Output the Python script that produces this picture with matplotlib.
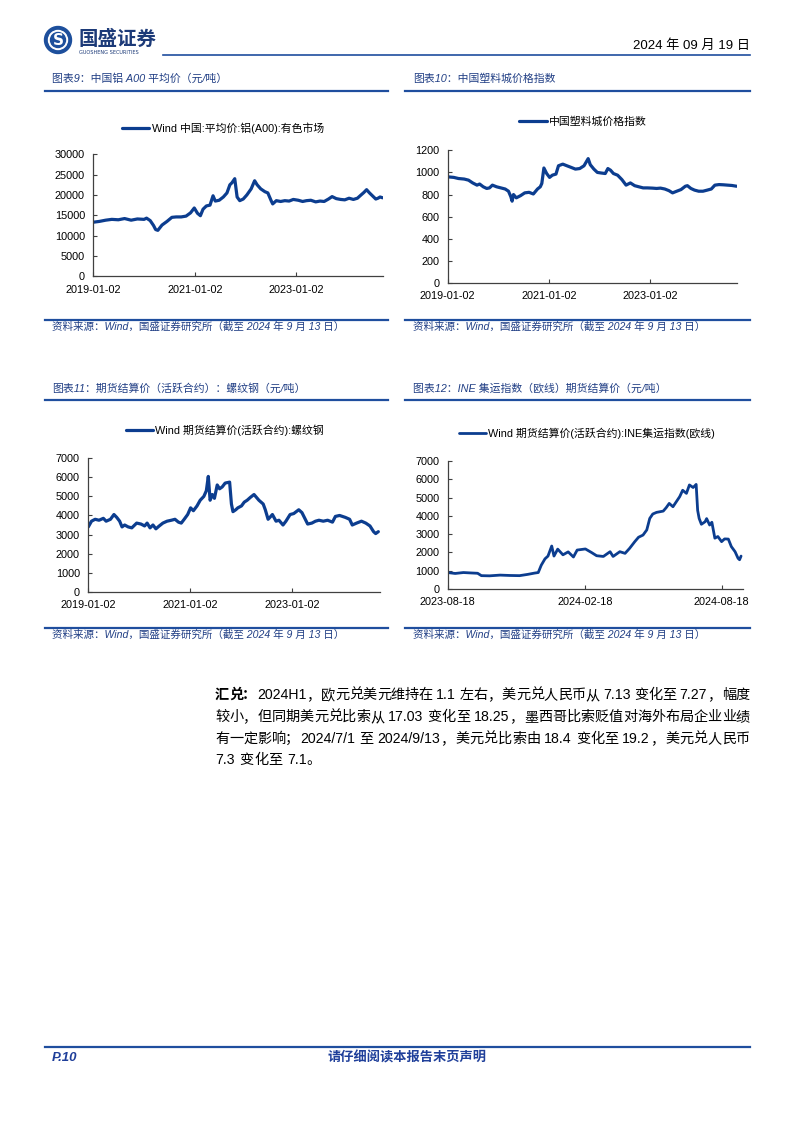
import re
import matplotlib
matplotlib.use('Agg')
import matplotlib.pyplot as plt
import matplotlib.dates as mdates
import pandas as pd
from matplotlib.lines import Line2D
from matplotlib.patches import Circle
from matplotlib.font_manager import FontProperties

# page size in px
W, H = 794, 1123

LATIN_CJK = ['Liberation Sans', 'Noto Sans CJK SC', 'DejaVu Sans']
LINE_C = '#0c3d8f'
RULE_C = '#1f4e9e'
TITLE_C = '#213f85'
AXIS_C = '#404040'

# chart 9: aluminium A00 average price
al_dates = ["2019-01-02", "2019-02-15", "2019-04-01", "2019-05-15", "2019-07-01", "2019-08-15",
            "2019-10-01", "2019-11-15", "2020-01-02", "2020-01-20", "2020-02-15", "2020-03-10",
            "2020-03-25", "2020-04-10", "2020-05-10", "2020-06-15", "2020-07-20", "2020-08-20",
            "2020-09-25", "2020-10-30", "2020-12-01", "2020-12-28", "2021-01-20", "2021-02-10",
            "2021-03-01", "2021-03-25", "2021-04-20", "2021-05-12", "2021-05-28", "2021-06-25",
            "2021-07-25", "2021-08-20", "2021-09-10", "2021-09-25", "2021-10-15", "2021-11-01",
            "2021-11-20", "2021-12-15", "2022-01-10", "2022-02-10", "2022-03-07", "2022-03-25",
            "2022-04-20", "2022-05-20", "2022-06-10", "2022-07-05", "2022-07-15", "2022-08-10",
            "2022-09-10", "2022-10-10", "2022-11-10", "2022-12-10", "2023-01-15", "2023-02-15",
            "2023-03-15", "2023-04-15", "2023-05-20", "2023-06-20", "2023-07-20", "2023-08-20",
            "2023-09-15", "2023-10-15", "2023-11-15", "2023-12-15", "2024-01-15", "2024-02-15",
            "2024-03-15", "2024-04-10", "2024-04-30", "2024-05-20", "2024-06-10", "2024-07-01",
            "2024-07-25", "2024-08-10", "2024-08-25", "2024-09-13"]
al_vals = [13300, 13500, 13800, 14000, 13900, 14200,
           13800, 14100, 14000, 14300, 13700, 12500,
           11500, 11300, 12600, 13500, 14500, 14600,
           14600, 14800, 15600, 16800, 15500, 14900,
           16500, 17300, 17500, 19800, 18500, 18700,
           19500, 20500, 22500, 23000, 24000, 19500,
           18600, 19000, 20000, 21500, 23500, 22500,
           21500, 20800, 20500, 18500, 17800, 18600,
           18400, 18600, 18500, 18900, 18700, 18400,
           18600, 18700, 18300, 18500, 18400, 19000,
           19600, 19100, 18900, 18800, 19200, 18900,
           19200, 20000, 20600, 21300, 20500, 19800,
           19000, 19200, 19500, 19300]

# chart 10: China plastics city price index
pl_dates = ["2019-01-02", "2019-02-15", "2019-03-20", "2019-05-01", "2019-06-01", "2019-07-01",
            "2019-08-01", "2019-08-20", "2019-09-15", "2019-10-10", "2019-10-30", "2019-11-20",
            "2019-12-20", "2020-01-20", "2020-02-20", "2020-03-15", "2020-04-01", "2020-04-10",
            "2020-04-20", "2020-05-10", "2020-06-10", "2020-07-10", "2020-08-10", "2020-09-10",
            "2020-10-10", "2020-10-30", "2020-11-10", "2020-11-25", "2020-12-15", "2021-01-05",
            "2021-01-25", "2021-02-20", "2021-03-10", "2021-04-10", "2021-05-10", "2021-06-10",
            "2021-07-10", "2021-08-10", "2021-09-10", "2021-10-10", "2021-10-25", "2021-11-20",
            "2021-12-15", "2022-01-10", "2022-02-10", "2022-03-01", "2022-03-20", "2022-04-10",
            "2022-05-10", "2022-06-10", "2022-07-10", "2022-08-10", "2022-09-10", "2022-10-10",
            "2022-11-10", "2022-12-10", "2023-01-15", "2023-02-15", "2023-03-15", "2023-04-15",
            "2023-05-15", "2023-06-10", "2023-07-10", "2023-08-10", "2023-09-10", "2023-09-25",
            "2023-10-20", "2023-11-15", "2023-12-15", "2024-01-15", "2024-02-15", "2024-03-15",
            "2024-04-10", "2024-05-10", "2024-06-10", "2024-07-10", "2024-08-10", "2024-09-13"]
pl_vals = [960, 955, 945, 940, 930, 905,
           885, 895, 870, 855, 860, 885,
           870, 860, 850, 830, 780, 740,
           800, 770, 790, 815, 820, 805,
           850, 870, 900, 1040, 990, 955,
           975, 985, 1060, 1075, 1060, 1045,
           1030, 1035, 1060, 1125, 1070, 1030,
           1000, 995, 990, 1035, 1020, 990,
           975, 935, 885, 905, 880, 870,
           860, 860, 858, 855, 858, 850,
           835, 815, 830, 845, 875, 880,
           855, 840, 830, 830, 840, 850,
           885, 890, 888, 885, 882, 875]

# chart 11: rebar futures settlement price
rb_dates = ["2019-01-02", "2019-01-25", "2019-02-20", "2019-03-20", "2019-04-20", "2019-05-10",
            "2019-06-10", "2019-07-05", "2019-07-25", "2019-08-15", "2019-09-01", "2019-09-20",
            "2019-10-15", "2019-11-10", "2019-12-15", "2020-01-15", "2020-02-10", "2020-02-28",
            "2020-03-20", "2020-04-10", "2020-05-01", "2020-05-25", "2020-06-20", "2020-07-20",
            "2020-08-20", "2020-09-15", "2020-10-10", "2020-10-30", "2020-11-20", "2020-12-15",
            "2021-01-05", "2021-01-25", "2021-02-20", "2021-03-15", "2021-04-10", "2021-04-28",
            "2021-05-12", "2021-05-25", "2021-06-10", "2021-06-25", "2021-07-15", "2021-08-01",
            "2021-08-20", "2021-09-10", "2021-10-12", "2021-10-25", "2021-11-05", "2021-11-25",
            "2021-12-10", "2022-01-05", "2022-01-25", "2022-02-15", "2022-03-10", "2022-04-05",
            "2022-05-10", "2022-06-10", "2022-06-25", "2022-07-15", "2022-07-28", "2022-08-15",
            "2022-09-10", "2022-10-01", "2022-10-30", "2022-11-20", "2022-12-20", "2023-01-15",
            "2023-02-20", "2023-03-15", "2023-04-25", "2023-05-25", "2023-06-20", "2023-07-15",
            "2023-08-15", "2023-09-15", "2023-10-20", "2023-11-10", "2023-12-10", "2024-01-20",
            "2024-02-20", "2024-03-10", "2024-04-10", "2024-05-15", "2024-06-15", "2024-07-15",
            "2024-08-10", "2024-08-25", "2024-09-13"]
rb_vals = [3400, 3700, 3800, 3750, 3850, 3700,
           3800, 4050, 3900, 3700, 3400, 3500,
           3400, 3350, 3600, 3550, 3450, 3600,
           3350, 3500, 3300, 3450, 3600, 3700,
           3750, 3800, 3650, 3600, 3800, 4050,
           4400, 4250, 4500, 4800, 5000, 5300,
           6050, 4800, 5100, 4900, 5600, 5400,
           5500, 5700, 5750, 4600, 4200, 4300,
           4400, 4500, 4700, 4800, 4950, 5100,
           4800, 4600, 4300, 3800, 3900, 4050,
           3700, 3750, 3500, 3700, 4050, 4100,
           4300, 4150, 3550, 3600, 3700, 3750,
           3700, 3750, 3650, 3950, 4000, 3900,
           3800, 3500, 3600, 3700, 3600, 3450,
           3150, 3050, 3150]

# chart 12: INE container freight index (Europe) futures
ec_dates = ["2023-08-18", "2023-08-28", "2023-09-08", "2023-09-17", "2023-09-27", "2023-10-02",
            "2023-10-13", "2023-10-27", "2023-11-09", "2023-11-22", "2023-12-03", "2023-12-12",
            "2023-12-17", "2023-12-21", "2023-12-26", "2023-12-30", "2024-01-04", "2024-01-07",
            "2024-01-12", "2024-01-19", "2024-01-26", "2024-02-02", "2024-02-07", "2024-02-18",
            "2024-02-26", "2024-03-04", "2024-03-13", "2024-03-22", "2024-03-26", "2024-04-04",
            "2024-04-11", "2024-04-17", "2024-04-24", "2024-04-29", "2024-05-05", "2024-05-10",
            "2024-05-14", "2024-05-18", "2024-05-23", "2024-06-01", "2024-06-05", "2024-06-09",
            "2024-06-14", "2024-06-23", "2024-06-27", "2024-07-02", "2024-07-06", "2024-07-11",
            "2024-07-15", "2024-07-17", "2024-07-19", "2024-07-22", "2024-07-27", "2024-07-29",
            "2024-08-02", "2024-08-05", "2024-08-09", "2024-08-13", "2024-08-18", "2024-08-22",
            "2024-08-27", "2024-08-31", "2024-09-05", "2024-09-09", "2024-09-11", "2024-09-13"]
ec_vals = [900, 850, 900, 880, 860, 730,
           720, 760, 740, 730, 800, 870,
           900, 1300, 1650, 1800, 2350, 1800,
           2180, 1870, 2030, 1750, 2130, 2190,
           2000, 1820, 1780, 2040, 1780, 2040,
           1950, 2220, 2590, 2830, 2950, 3230,
           3860, 4100, 4190, 4260, 4450, 4680,
           4500, 5050, 5400, 5230, 5690, 5550,
           5720, 4300, 3860, 3540, 3680, 3850,
           3500, 3650, 2780, 2870, 2590, 2740,
           2730, 2320, 2040, 1680, 1600, 1800]

para_lines = [
    "汇兑：2024H1，欧元兑美元维持在 1.1 左右，美元兑人民币从 7.13 变化至 7.27，幅度",
    "较小，但同期美元兑比索从 17.03 变化至 18.25，墨西哥比索贬值对海外布局企业业绩",
    "有一定影响；2024/7/1 至 2024/9/13，美元兑比索由 18.4 变化至 19.2，美元兑人民币",
    "7.3 变化至 7.1。",
]

fig = plt.figure(figsize=(W / 100, H / 100), dpi=100)
renderer = fig.canvas.get_renderer()


def fx(x):
    return x / W


def fy(y):
    return 1 - y / H


def rule(y, x0, x1, lw=1.6, color=RULE_C):
    fig.add_artist(Line2D([fx(x0), fx(x1)], [fy(y), fy(y)], color=color, lw=lw))


def ptext(x, y, s, **kw):
    kw.setdefault('va', 'center')
    kw.setdefault('family', LATIN_CJK)
    return fig.text(fx(x), fy(y), s, **kw)


def para_line(x0, x1, y, s, size, bold_n=0, justify=True):
    # every CJK char gets a 1em cell, latin runs their own width; slack spread over the gaps
    em = size * 100 / 72
    tokens = re.findall(r'[A-Za-z0-9./]+| |.', s)
    items = []
    count = 0
    for tok in tokens:
        weight = 'bold' if count < bold_n else 'normal'
        count += len(tok)
        if tok == ' ':
            items.append(('space', None, 0.25 * em))
        elif re.match(r'[A-Za-z0-9./]', tok):
            t = ptext(0, y, tok, fontsize=size, fontweight=weight, color='black')
            items.append(('latin', t, t.get_window_extent(renderer).width + 1))
        else:
            punct = tok in '，；：。、'
            t = ptext(0, y, tok, fontsize=size, fontweight=weight, color='black',
                      ha='left' if punct else 'center')
            items.append(('punct' if punct else 'cjk', t, em))
    total = sum(w for _, _, w in items)
    n_gap = len(items) - 1
    gap = (x1 - x0 - total) / n_gap if justify and n_gap > 0 else 0.3
    x = x0
    for kind, t, w in items:
        if kind == 'latin':
            t.set_x(fx(x))
        elif kind == 'cjk':
            t.set_x(fx(x + w / 2))
        elif kind == 'punct':
            t.set_x(fx(x - 0.08 * em))
        x += w + gap


def chart(l, t, r, b, dates, vals, xlim, ticks, ylim, ystep, label, leg_xy, lw=2.3):
    ax = fig.add_axes([fx(l), fy(b), fx(r) - fx(l), fy(t) - fy(b)])
    ax.plot(pd.to_datetime(dates), vals, color=LINE_C, lw=lw, label=label,
            solid_joinstyle='round', solid_capstyle='round')
    ax.set_xlim(pd.Timestamp(xlim[0]), pd.Timestamp(xlim[1]))
    ax.set_ylim(ylim[0], ylim[1])
    ax.set_yticks(list(range(ylim[0], ylim[1] + 1, ystep)))
    ax.set_xticks(pd.to_datetime(ticks))
    ax.xaxis.set_major_formatter(mdates.DateFormatter('%Y-%m-%d'))
    for s in ['top', 'right']:
        ax.spines[s].set_visible(False)
    for s in ['left', 'bottom']:
        ax.spines[s].set_color(AXIS_C)
        ax.spines[s].set_linewidth(0.9)
    ax.tick_params(direction='in', length=3, width=0.8, color=AXIS_C, labelsize=7.8, pad=6)
    for lab in ax.get_xticklabels() + ax.get_yticklabels():
        lab.set_family(LATIN_CJK)
    ax.legend(loc='center', bbox_to_anchor=(fx(leg_xy[0]), fy(leg_xy[1])),
              bbox_transform=fig.transFigure, frameon=False, handlelength=2.5,
              handletextpad=0.2, borderpad=0,
              prop=FontProperties(family=LATIN_CJK, size=7.8))
    return ax


# header
logo = fig.add_axes([fx(42), fy(56), fx(32), 32 / H])
logo.set_xlim(0, 32)
logo.set_ylim(0, 32)
logo.axis('off')
logo.add_patch(Circle((16, 16), 13.5, color='#1d4f9c'))
logo.add_patch(Circle((16, 16), 9.5, color='white'))
logo.add_patch(Circle((16, 16), 7.5, color='#1d4f9c'))
logo.text(16, 15.5, "S", color='white', fontsize=11, fontweight='bold', ha='center', va='center',
          family='DejaVu Sans')
ptext(79, 39, "国盛证券", fontsize=14, fontweight='bold', color='#1c3a78')
ptext(79, 52, "GUOSHENG SECURITIES", fontsize=3.6, color='#1c3a78', family='DejaVu Sans')
rule(55, 163, 750, lw=1.2)
ptext(750, 46, "2024 年 09 月 19 日", fontsize=9.5, ha='right', color='black')

# panel titles, rules and sources
ptext(52, 79, "图表9：中国铝 A00 平均价（元/吨）", fontsize=7.8, color=TITLE_C, style='italic')
ptext(413, 79, "图表10：中国塑料城价格指数", fontsize=7.8, color=TITLE_C, style='italic')
ptext(52, 388, "图表11：期货结算价（活跃合约）：螺纹钢（元/吨）", fontsize=7.8, color=TITLE_C, style='italic')
ptext(413, 388, "图表12：INE 集运指数（欧线）期货结算价（元/吨）", fontsize=7.8, color=TITLE_C, style='italic')
for y in [91, 400, 320, 628]:
    rule(y, 45, 388)
    rule(y, 405, 750)
src = "资料来源：Wind，国盛证券研究所（截至 2024 年 9 月 13 日）"
for x, y in [(52, 327), (413, 327), (52, 635), (413, 635)]:
    ptext(x, y, src, fontsize=7.6, color=TITLE_C, style='italic')

chart(93.3, 154.3, 383, 276.3, al_dates, al_vals, ("2019-01-02", "2024-09-15"),
      ["2019-01-02", "2021-01-02", "2023-01-02"], (0, 30000), 5000,
      "Wind 中国:平均价:铝(A00):有色市场", (223, 128))
chart(447.7, 150.3, 736.7, 283, pl_dates, pl_vals, ("2019-01-02", "2024-09-14"),
      ["2019-01-02", "2021-01-02", "2023-01-02"], (0, 1200), 200,
      "中国塑料城价格指数", (583, 122))
chart(88.3, 458.3, 380, 591.7, rb_dates, rb_vals, ("2019-01-02", "2024-09-25"),
      ["2019-01-02", "2021-01-02", "2023-01-02"], (0, 7000), 1000,
      "Wind 期货结算价(活跃合约):螺纹钢", (225, 430))
chart(447.7, 461, 743.3, 589, ec_dates, ec_vals, ("2023-08-18", "2024-09-16"),
      ["2023-08-18", "2024-02-18", "2024-08-18"], (0, 7000), 1000,
      "Wind 期货结算价(活跃合约):INE集运指数(欧线)", (587, 433), lw=2.0)

# commentary paragraph (justified lines, last line ragged)
para_y = [695, 717, 739, 760]
for i, (line, y) in enumerate(zip(para_lines, para_y)):
    para_line(215, 750, y, line, 10.2, bold_n=3 if i == 0 else 0, justify=i < 3)

# footer
rule(1047, 45, 750, lw=1.6)
ptext(52, 1058, "P.10", fontsize=9.5, fontweight='bold', style='italic', color='#1f3f9a')
ptext(407, 1058, "请仔细阅读本报告末页声明", fontsize=9.5, fontweight='bold', style='italic',
      color='#1f3f9a', ha='center')

fig.savefig("out.png", dpi=100)
